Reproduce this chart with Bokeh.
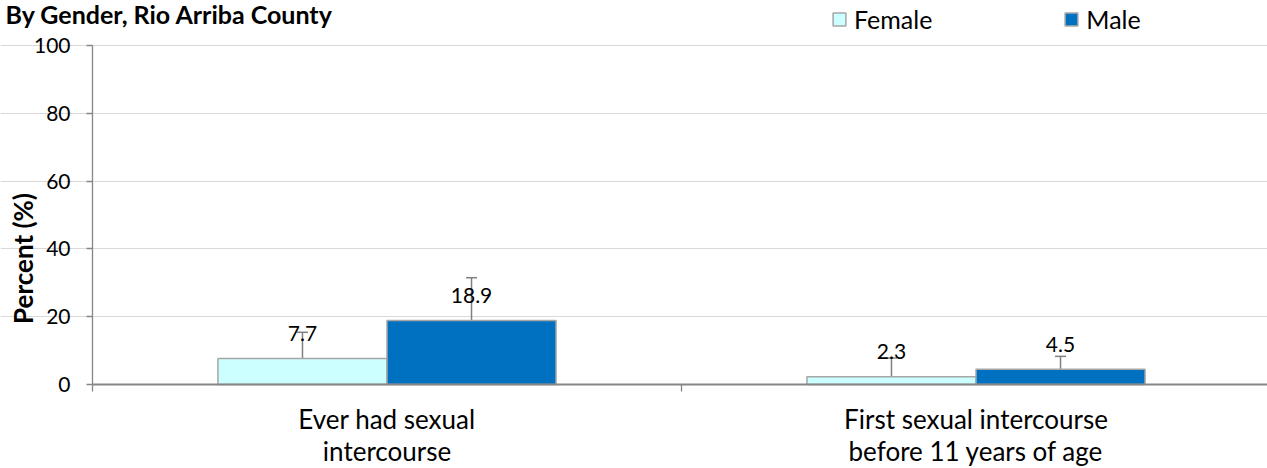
import math
from bokeh.plotting import figure
from bokeh.models import (ColumnDataSource, Whisker, TeeHead, Label, Legend, LegendItem,
                          FixedTicker, Range1d, LinearAxis, Grid)
from bokeh.core.properties import value
from bokeh.embed import file_html
from bokeh.resources import INLINE

# ---------------- data ----------------
categories = ["Ever had sexual\nintercourse", "First sexual intercourse\nbefore 11 years of age"]
series_names = ["Female", "Male"]
female_values = [7.7, 2.3]
male_values = [18.9, 4.5]
female_lower = [3.8, 0.8]
female_upper = [15.4, 7.8]
male_lower = [10.5, 2.5]
male_upper = [31.5, 8.3]
y_ticks = [0, 20, 40, 60, 80, 100]
title_text = "By Gender, Rio Arriba County"
y_label = "Percent (%)"

# ---------------- style ----------------
FONT = "Lato"
FEMALE_COLOR = "#ccffff"
MALE_COLOR = "#0070c0"
OUTLINE = "#a6a6a6"
AXIS = "#868686"
GRID = "#d9d9d9"
ERR = "#808080"
BAR_W = 0.287
OFFSET = 0.1435
BASE_SHIFT = 0.42   # em correction for rendered alphabetic baseline

W, H = 1267, 468
AX_LEFT = 92        # pixel of category start (y axis)
ZERO_Y = 384        # pixel of y = 0
TOP_Y = 45          # pixel of y = 100
CAT_PX = 589.0
PPU = (ZERO_Y - TOP_Y) / 100.0


def data_x(px):
    return (px - AX_LEFT) / CAT_PX


def data_y(py):
    return (ZERO_Y - py) / PPU


def base_y(py, fs):
    return data_y(py - BASE_SHIFT * fs)


p = figure(width=W, height=H, output_backend="svg", toolbar_location=None,
           x_range=Range1d(data_x(0), data_x(W)), y_range=Range1d(data_y(H), data_y(0)),
           x_axis_location=None, y_axis_location=None,
           min_border=0, min_border_left=0, min_border_right=0,
           min_border_top=0, min_border_bottom=0)
p.outline_line_color = None
p.background_fill_color = "white"
p.border_fill_color = "white"
for g in p.grid:
    g.visible = False

n = len(categories)
idx = list(range(n))
xf = [i + 0.5 - OFFSET for i in idx]
xm = [i + 0.5 + OFFSET for i in idx]

# gridlines
p.add_layout(Grid(dimension=1, ticker=FixedTicker(ticks=y_ticks[1:]), bounds=(0, n),
                  grid_line_color=GRID, grid_line_width=1))

src_f = ColumnDataSource(dict(x=xf, top=female_values, lo=female_lower, hi=female_upper,
                              lab=[f"{v:.1f}" for v in female_values]))
src_m = ColumnDataSource(dict(x=xm, top=male_values, lo=male_lower, hi=male_upper,
                              lab=[f"{v:.1f}" for v in male_values]))

rf = p.vbar(x="x", top="top", bottom=0, width=BAR_W, source=src_f, fill_color=FEMALE_COLOR,
            line_color=OUTLINE, line_width=1.5)
rm = p.vbar(x="x", top="top", bottom=0, width=BAR_W, source=src_m, fill_color=MALE_COLOR,
            line_color=OUTLINE, line_width=1.5)

VAL_FS = 21
for src in (src_f, src_m):
    w = Whisker(base="x", lower="lo", upper="hi", source=src, line_color=ERR, line_width=1.5,
                upper_head=TeeHead(size=11, line_color=ERR, line_width=1.5),
                lower_head=TeeHead(size=11, line_color=ERR, line_width=1.5))
    p.add_layout(w)
    p.text(x="x", y="top", text="lab", source=src, text_font=value(FONT),
           text_font_size=f"{VAL_FS}px", text_color="black", text_align="center",
           text_baseline="alphabetic", y_offset=-(16 + BASE_SHIFT * VAL_FS))

# y axis (fixed at category start)
yax = LinearAxis(fixed_location=0, bounds=(0, 100), ticker=FixedTicker(ticks=y_ticks))
yax.axis_line_color = AXIS
yax.axis_line_width = 1.3
yax.major_tick_line_color = AXIS
yax.major_tick_line_width = 1.3
yax.major_tick_out = 6
yax.major_tick_in = 0
yax.minor_tick_line_color = None
yax.major_label_standoff = 16
yax.major_label_text_font = FONT
yax.major_label_text_font_size = "21px"
yax.major_label_text_color = "black"
p.add_layout(yax, "left")

# x axis (fixed at y = 0)
xax = LinearAxis(fixed_location=0, bounds=(0, n),
                 ticker=FixedTicker(ticks=[], minor_ticks=list(range(n + 1))))
xax.axis_line_color = AXIS
xax.axis_line_width = 2
xax.minor_tick_line_color = AXIS
xax.minor_tick_line_width = 1.3
xax.minor_tick_out = 7
xax.minor_tick_in = 0
xax.major_tick_line_color = None
xax.major_label_text_font_size = "0px"
p.add_layout(xax, "below")

# category labels
CAT_FS = 26
for i, cat in enumerate(categories):
    for j, line in enumerate(cat.split("\n")):
        p.add_layout(Label(x=i + 0.5, y=base_y(429 + 32 * j, CAT_FS), text=line,
                           text_font=FONT, text_font_size=f"{CAT_FS}px", text_color="black",
                           text_align="center", text_baseline="alphabetic"))

# y label
p.add_layout(Label(x=data_x(22), y=data_y(258), text=y_label, angle=math.pi / 2,
                   text_font=FONT, text_font_size="26px", text_font_style="bold",
                   text_color="black", text_align="center", text_baseline="middle"))

# title
TITLE_FS = 25
p.add_layout(Label(x=data_x(5), y=base_y(24, TITLE_FS), text=title_text, text_font=FONT,
                   text_font_size=f"{TITLE_FS}px", text_font_style="bold", text_color="black",
                   text_align="left", text_baseline="alphabetic"))

# legend
legend = Legend(items=[LegendItem(label=series_names[0], renderers=[rf]),
                       LegendItem(label=series_names[1], renderers=[rm])],
                orientation="horizontal", location=(831, H - 34),
                glyph_width=16, glyph_height=16, label_standoff=7, spacing=131,
                padding=0, margin=0, label_height=20,
                label_text_font=FONT, label_text_font_size="25px",
                label_text_color="black", border_line_alpha=0,
                background_fill_alpha=0)
p.add_layout(legend)

open("out.html", "w").write(file_html(p, INLINE))
